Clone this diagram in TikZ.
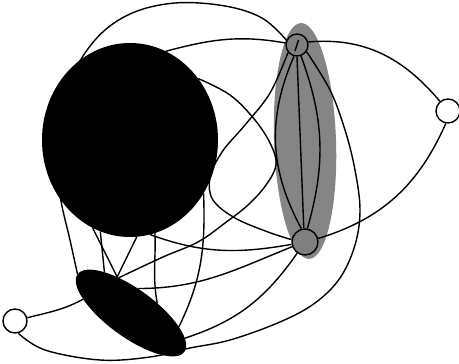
\documentclass[tikz,border=0pt]{standalone}
\usetikzlibrary{shapes.geometric, backgrounds}
\tikzset{
	hub/.style ={ellipse, fill=black, minimum width=88mm, minimum height=97mm, inner sep=0pt},
	band/.style={ellipse, fill=black!48, minimum width=31mm, minimum height=118mm, inner sep=0pt},
	blob/.style={ellipse, fill=black, minimum width=66mm, minimum height=24mm, inner sep=0pt},
	vtx/.style ={circle, draw=black, line width=2pt, fill=white, minimum size=12mm, inner sep=0pt},
	gvtx/.style={vtx, fill=black!50},
	link/.style={line width=2pt},
}
\begin{document}
\begin{tikzpicture}[x=0.5mm, y=-0.5mm]
						\useasboundingbox (0,0) rectangle (459,363);
						\node[hub] (B) at (130,140) {};
						\node[blob, rotate=-36] (E) at (131,313) {};
						\node[gvtx, minimum size=11mm] (T) at (297,45) {};
						\node[gvtx, minimum size=13mm] (U) at (305,242) {};
						\node[vtx] (R) at (448,111) {};
						\node[vtx] (L) at (15,321) {};
						\draw[line width=2pt] (T.center) ++(1.5,-5) -- ++(-3.5,11);
						\begin{scope}[on background layer]
						\node[band, rotate=2] (G) at (305,141) {};
						\draw[link] plot[smooth, tension=0.6] coordinates {(E.west) (70,240) (60,195) (55,140) (68,85) (95,40) (130,14) (175,3) (225,6) (262,18) (T.155)};
						\draw[link] (B.68) to[out=15,in=170] (T.170);
						\draw[link] (T.15) to[out=5,in=130] (R.130);
						\draw[link] plot[smooth, tension=0.6] coordinates {(L.-75) (45,350) (100,360) (150,357) (190,348) (230,340) (280,322) (315,303) (340,278) (355,245) (360,210) (355,170) (345,130) (330,90) (T.-35)};
						\draw[link] (R.-100) to[out=-114,in=17] (U.15);
						\draw[link] plot[smooth, tension=0.6] coordinates {(T.-140) (270,93) (245,125) (222,152) (210,178) (213,200) (235,218) (268,232) (U.170)};
						\draw[link] plot[smooth, tension=0.6] coordinates {(B.42) (230,95) (255,120) (271,145) (276,165) (266,185) (248,205) (225,223) (198,242) (163,257) (E.145)};
						\draw[link] (T.-105) to[bend right=26] (U.105); \draw[link] (T.-90) -- (U.95); \draw[link] (T.-70) to[bend left=18] (U.80);
						\draw[link] (B.-36) to[out=-88,in=64] (E.20); \draw[link] (B.-75) to[out=-88,in=100] (E.57);
						\draw[link] (B.-108) -- (E.159); \draw[link] (B.-113) -- (E.147); \draw[link] (B.-86) -- (E.147);
						\draw[link] (B.-78) to[out=-20,in=190] (U.190);
						\draw[link] (E.110) to[out=0,in=202] (U.200);
						\draw[link] (E.11) to[out=18,in=235] (U.235);
						\draw[link] (L.15) to[out=14,in=208] (E.200);
						\end{scope}
					\end{tikzpicture}
\end{document}
